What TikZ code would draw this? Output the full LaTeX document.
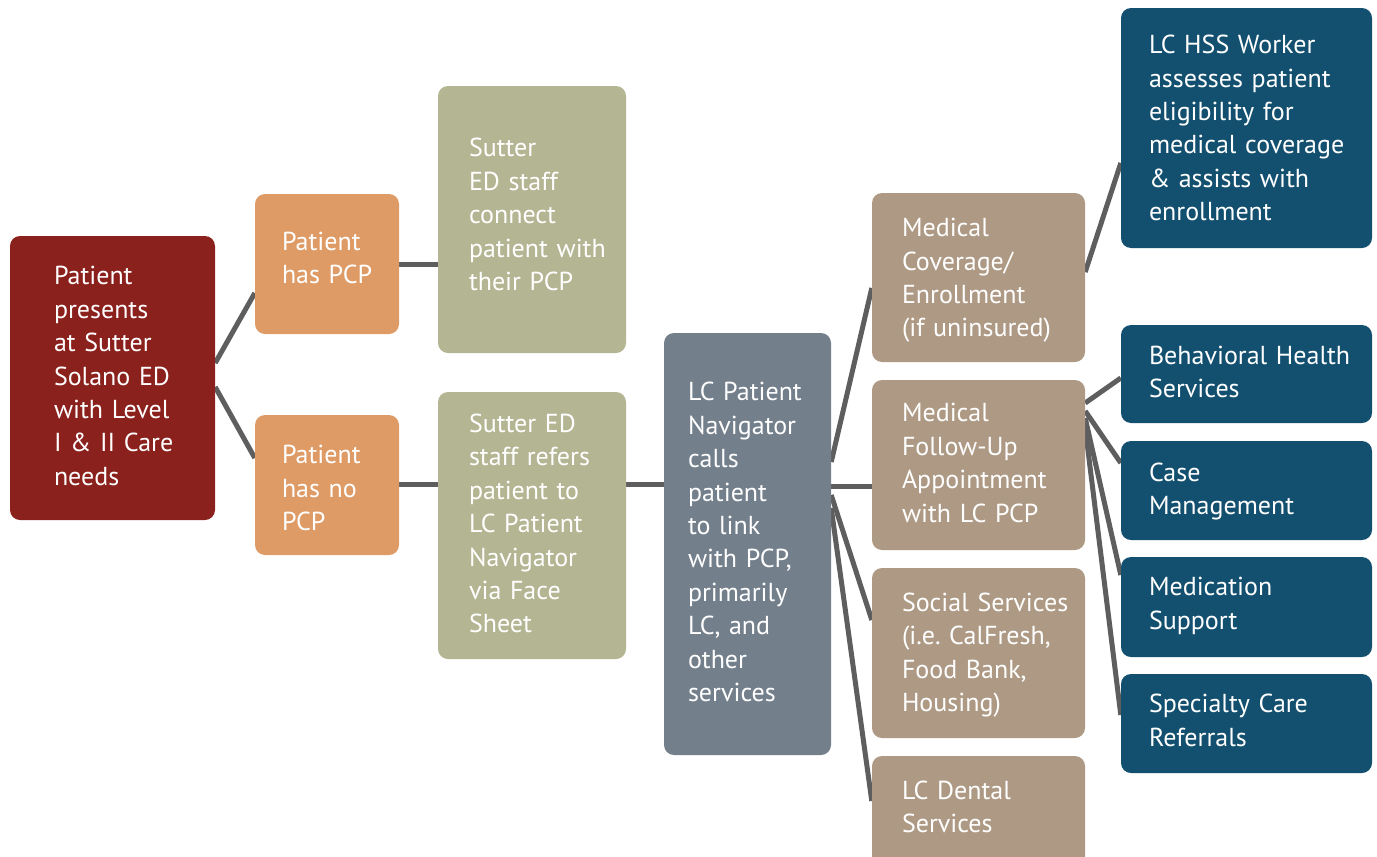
\documentclass[tikz,border=0pt]{standalone}
\usepackage{fontspec}
\setmainfont{PT Sans}
\usetikzlibrary{backgrounds}

\definecolor{edred}{HTML}{8B211D}
\definecolor{pcporange}{HTML}{DE9B66}
\definecolor{staffolive}{HTML}{B4B592}
\definecolor{navgray}{HTML}{737F8B}
\definecolor{servtan}{HTML}{AE9A84}
\definecolor{lcteal}{HTML}{13506F}
\definecolor{linkgray}{HTML}{5E5E5E}

% extra space under the last line, to nudge the text block
\newcommand{\boxlift}[1]{\\[#1pt]\nointerlineskip\null}

\begin{document}
\begin{tikzpicture}[x=1pt,y=-1pt,
    box/.style={rounded corners=10pt,inner xsep=0pt,inner ysep=0pt,
      text=white,align=left,font=\fontsize{26}{33.4}\selectfont\frenchspacing},
    pad/.style={execute at begin node={\leftskip=#1pt}},
    link/.style={draw=linkgray,line width=5pt}]
  \useasboundingbox (0,0) rectangle (1377,857);
  % first column
  \node[box,fill=edred,minimum width=205pt,minimum height=284pt,text width=205pt,pad=44]
    (patient) at (112.5,378) {Patient\\presents\\at Sutter\\Solano ED\\with Level\\I \& II Care\\needs\boxlift{4}};
  % has pcp or not
  \node[box,fill=pcporange,minimum width=144pt,minimum height=140pt,text width=144pt,pad=27]
    (haspcp) at (327,264) {Patient\\has PCP\boxlift{12}};
  \node[box,fill=pcporange,minimum width=144pt,minimum height=140pt,text width=144pt,pad=27]
    (nopcp) at (327,485) {Patient\\has no\\PCP\boxlift{-6}};
  % sutter staff
  \node[box,fill=staffolive,minimum width=188pt,minimum height=267pt,text width=188pt,pad=31]
    (connect) at (532,219.5) {Sutter\\ED staff\\connect\\patient with\\their PCP\boxlift{10}};
  \node[box,fill=staffolive,minimum width=188pt,minimum height=267pt,text width=188pt,pad=31]
    (refer) at (532,525.5) {Sutter ED\\staff refers\\patient to\\LC Patient\\Navigator\\via Face\\Sheet\boxlift{4}};
  % navigator
  \node[box,fill=navgray,minimum width=167pt,minimum height=422pt,text width=167pt,pad=24]
    (nav) at (747.5,544) {LC Patient\\Navigator\\calls\\patient\\to link\\with PCP,\\primarily\\LC, and\\other\\services\boxlift{4}};
  % services
  \node[box,fill=servtan,minimum width=213pt,minimum height=169pt,text width=213pt,pad=30]
    (coverage) at (978.5,277.5) {Medical\\Coverage/\\Enrollment\\(if uninsured)\boxlift{-6}};
  \node[box,fill=servtan,minimum width=213pt,minimum height=170pt,text width=213pt,pad=30]
    (followup) at (978.5,465) {Medical\\Follow-Up\\Appointment\\with LC PCP\boxlift{4}};
  \node[box,fill=servtan,minimum width=213pt,minimum height=170pt,text width=213pt,pad=30]
    (social) at (978.5,653) {Social Services\\(i.e. CalFresh,\\Food Bank,\\Housing)\boxlift{-4}};
  \node[box,fill=servtan,minimum width=213pt,minimum height=112pt,text width=213pt,pad=30]
    (dental) at (978.5,812) {LC Dental\\Services\boxlift{10}};
  % LC staff
  \node[box,fill=lcteal,minimum width=251pt,minimum height=240pt,text width=251pt,pad=28]
    (hss) at (1246.5,128) {LC HSS Worker\\assesses patient\\eligibility for\\medical coverage\\\& assists with\\enrollment};
  \node[box,fill=lcteal,minimum width=251pt,minimum height=98pt,text width=251pt,pad=28]
    (behav) at (1246.5,374) {Behavioral Health\\Services\boxlift{4}};
  \node[box,fill=lcteal,minimum width=251pt,minimum height=99pt,text width=251pt,pad=28]
    (casemg) at (1246.5,490.5) {Case\\Management\boxlift{-2}};
  \node[box,fill=lcteal,minimum width=251pt,minimum height=100pt,text width=251pt,pad=28]
    (medsup) at (1246.5,607) {Medication\\Support\boxlift{2}};
  \node[box,fill=lcteal,minimum width=251pt,minimum height=99pt,text width=251pt,pad=28]
    (specref) at (1246.5,723.5) {Specialty Care\\Referrals\boxlift{6}};
  % connectors
  \begin{scope}[on background layer]
    \draw[link] ([yshift=15pt]patient.east) -- ([yshift=-29pt]haspcp.west);
    \draw[link] ([yshift=-9pt]patient.east) -- ([yshift=27pt]nopcp.west);
    \draw[link] (haspcp.east) -- (haspcp.east -| connect.west);
    \draw[link] ([yshift=1pt]nopcp.east) -- ([yshift=1pt]nopcp.east -| refer.west);
    \draw[link] ([yshift=41.5pt]refer.east) -- ([yshift=41.5pt]refer.east -| nav.west);
    \draw[link] ([yshift=82pt]nav.east) -- ([yshift=-10.5pt]coverage.west);
    \draw[link] ([yshift=58pt]nav.east) -- ([yshift=58pt]nav.east -| followup.west);
    \draw[link] ([yshift=49pt]nav.east) -- ([yshift=33pt]social.west);
    \draw[link] ([yshift=36pt]nav.east) -- ([yshift=11pt]dental.west);
    \draw[link] ([yshift=5.5pt]coverage.east) -- ([yshift=-35pt]hss.west);
    \draw[link] ([yshift=62pt]followup.east) -- ([yshift=-4pt]behav.west);
    \draw[link] ([yshift=54pt]followup.east) -- ([yshift=27.5pt]casemg.west);
    \draw[link] ([yshift=47pt]followup.east) -- ([yshift=32pt]medsup.west);
    \draw[link] ([yshift=37pt]followup.east) -- ([yshift=8.5pt]specref.west);
  \end{scope}
\end{tikzpicture}
\end{document}
